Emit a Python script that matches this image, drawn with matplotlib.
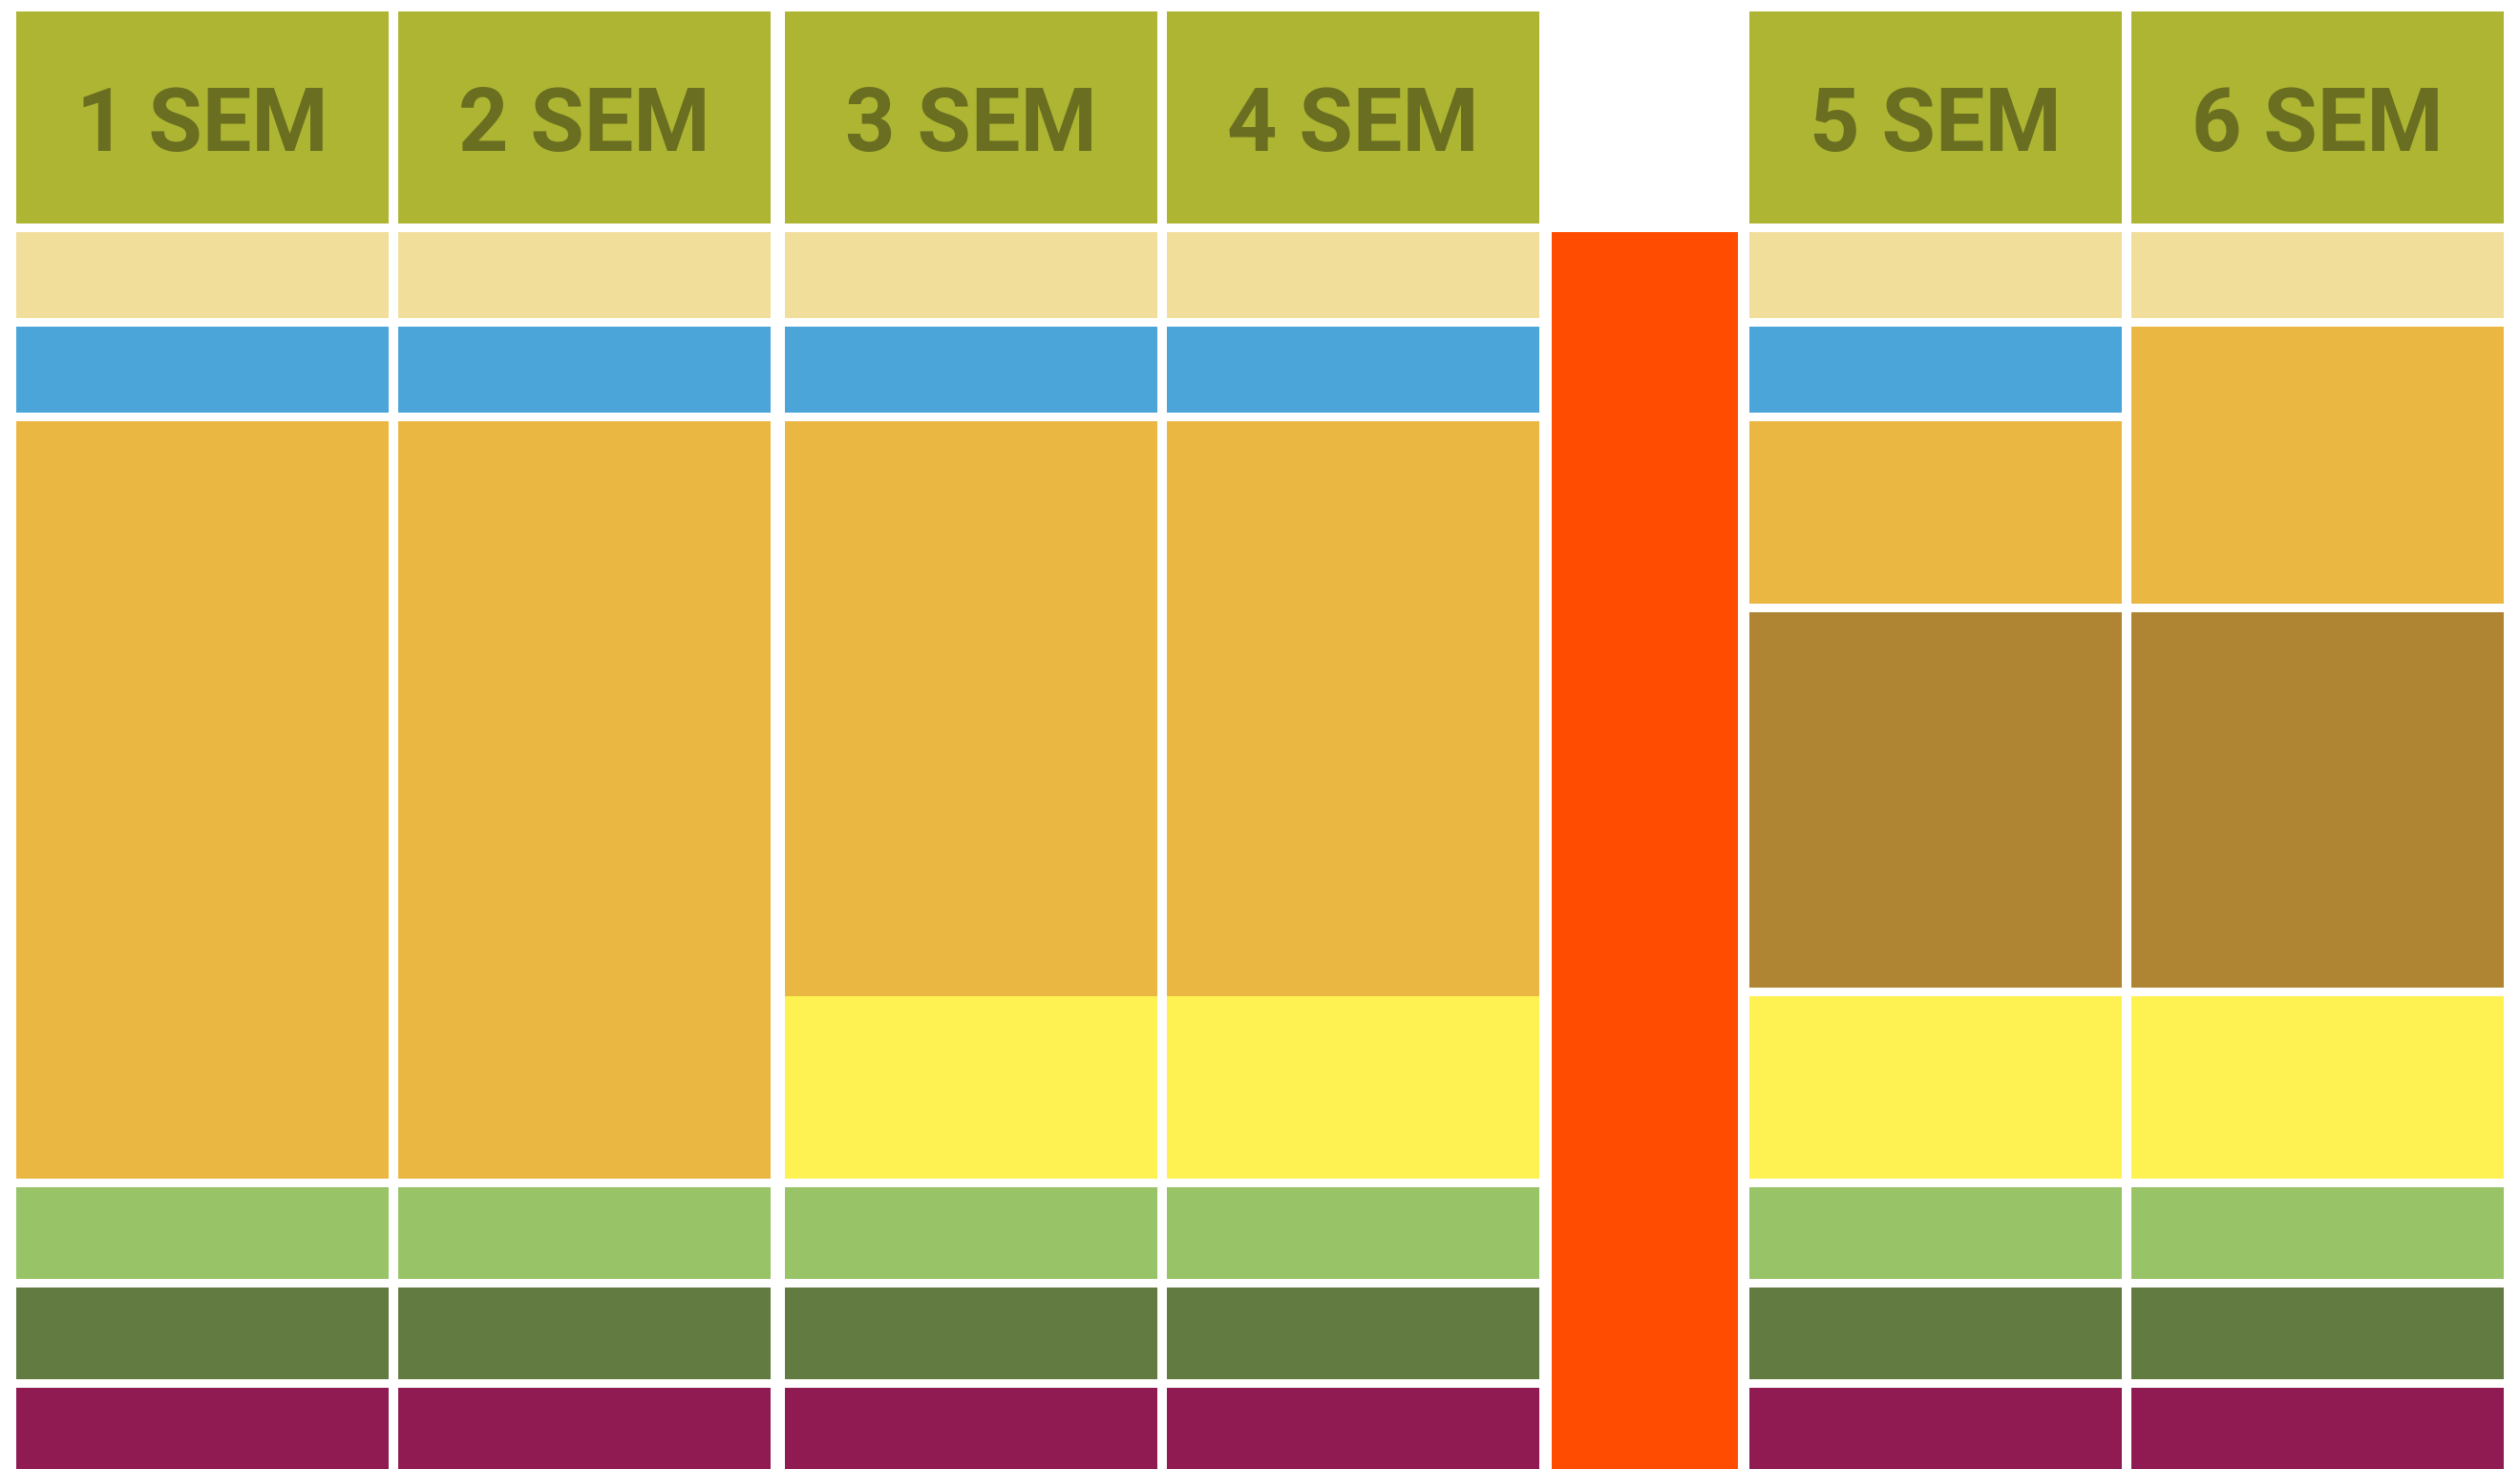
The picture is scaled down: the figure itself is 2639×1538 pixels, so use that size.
import matplotlib.pyplot as plt

# Semester columns (the empty one is the red break column)
semesters = ["1 SEM", "2 SEM", "3 SEM", "4 SEM", "", "5 SEM", "6 SEM"]

# Block types stacked from top to bottom in each column, with their heights
sem1_rows = ["head", "beige", "blue", "orange", "lgreen", "dgreen", "purple"]
sem1_vals = [222, 90, 90, 793, 96, 96, 86]
sem2_rows = ["head", "beige", "blue", "orange", "lgreen", "dgreen", "purple"]
sem2_vals = [222, 90, 90, 793, 96, 96, 86]
sem3_rows = ["head", "beige", "blue", "orange", "yellow", "lgreen", "dgreen", "purple"]
sem3_vals = [222, 90, 90, 602, 191, 96, 96, 86]
sem4_rows = ["head", "beige", "blue", "orange", "yellow", "lgreen", "dgreen", "purple"]
sem4_vals = [222, 90, 90, 602, 191, 96, 96, 86]
break_rows = ["none", "break"]
break_vals = [222, 1296]
sem5_rows = ["head", "beige", "blue", "orange", "brown", "yellow", "lgreen", "dgreen", "purple"]
sem5_vals = [222, 90, 90, 191, 393, 191, 96, 96, 86]
sem6_rows = ["head", "beige", "orange", "brown", "yellow", "lgreen", "dgreen", "purple"]
sem6_vals = [222, 90, 290, 393, 191, 96, 96, 86]

columns = [
    (sem1_rows, sem1_vals),
    (sem2_rows, sem2_vals),
    (sem3_rows, sem3_vals),
    (sem4_rows, sem4_vals),
    (break_rows, break_vals),
    (sem5_rows, sem5_vals),
    (sem6_rows, sem6_vals),
]

colors = {
    "head": "#adb533",
    "beige": "#f1de9b",
    "blue": "#4ba5d8",
    "orange": "#ebb743",
    "brown": "#af8432",
    "yellow": "#fef252",
    "lgreen": "#98c366",
    "dgreen": "#627b41",
    "purple": "#901b52",
    "break": "#ff4c00",
}

# layout
x_centers = [212, 612, 1017, 1417, 1722.5, 2027, 2427]
widths = [390, 390, 390, 390, 195, 390, 390]
top = 12
gap = 9

fig = plt.figure(figsize=(26.39, 15.381), dpi=100)
ax = fig.add_axes([0, 0, 1, 1])

for i, (rows, vals) in enumerate(columns):
    y = top
    prev = None
    for row, h in zip(rows, vals):
        # orange and yellow touch, every other pair has a white gap
        if prev is not None and not (prev == "orange" and row == "yellow"):
            y += gap
        if row != "none":
            ax.bar(x_centers[i], h, widths[i], bottom=y, color=colors[row],
                   linewidth=0, align="center")
        if row == "head":
            ax.text(x_centers[i], y + 146, semesters[i], ha="center", va="baseline",
                    fontsize=66, fontweight="bold", color="#6a6e20",
                    family=["Roboto", "DejaVu Sans"], fontstretch="condensed")
        y += h
        prev = row

ax.set_xlim(0, 2639)
ax.set_ylim(1538, 0)
ax.axis("off")

plt.savefig("out.png", dpi=100)
